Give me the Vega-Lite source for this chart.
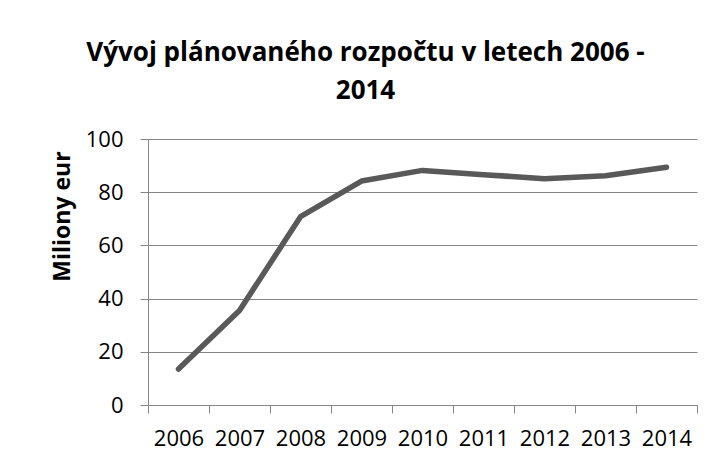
{
  "$schema": "https://vega.github.io/schema/vega-lite/v6.json",
  "width": 549,
  "height": 266,
  "autosize": "none",
  "padding": {"left": 148, "top": 139, "right": 16, "bottom": 58},
  "background": "white",
  "title": {
    "text": ["Vývoj plánovaného rozpočtu v letech 2006 -", "2014"],
    "font": "Open Sans",
    "fontSize": 26,
    "fontWeight": "bold",
    "color": "#000000",
    "anchor": "middle",
    "dx": -57,
    "lineHeight": 38,
    "offset": 24
  },
  "data": {
    "values": [
      {"rok": "2006", "hodnota": 13.5},
      {"rok": "2007", "hodnota": 35.5},
      {"rok": "2008", "hodnota": 70.8},
      {"rok": "2009", "hodnota": 84.2},
      {"rok": "2010", "hodnota": 88.2},
      {"rok": "2011", "hodnota": 86.6},
      {"rok": "2012", "hodnota": 85.1},
      {"rok": "2013", "hodnota": 86.2},
      {"rok": "2014", "hodnota": 89.4}
    ]
  },
  "mark": {"type": "line", "color": "#595959", "strokeWidth": 5.5, "strokeCap": "round", "strokeJoin": "round"},
  "encoding": {
    "x": {
      "field": "rok",
      "type": "ordinal",
      "scale": {"paddingInner": 0, "paddingOuter": 0},
      "axis": {
        "title": null,
        "labelAngle": 0,
        "tickBand": "extent",
        "grid": false,
        "domainColor": "#868686",
        "tickColor": "#868686",
        "tickSize": 8,
        "labelPadding": 15,
        "labelFont": "Open Sans",
        "labelFontSize": 22,
        "labelColor": "#000000"
      }
    },
    "y": {
      "field": "hodnota",
      "type": "quantitative",
      "scale": {"domain": [0, 100]},
      "axis": {
        "title": "Miliony eur",
        "titleFont": "Open Sans",
        "titleFontSize": 23,
        "titleFontWeight": "bold",
        "titleColor": "#000000",
        "titleX": -74,
        "titleY": 77,
        "titleAlign": "center",
        "values": [0, 20, 40, 60, 80, 100],
        "grid": true,
        "gridColor": "#868686",
        "gridWidth": 1,
        "domainColor": "#868686",
        "tickColor": "#868686",
        "tickSize": 8,
        "labelPadding": 17,
        "labelFont": "Open Sans",
        "labelFontSize": 22,
        "labelColor": "#000000"
      }
    }
  },
  "config": {"view": {"stroke": null}}
}
